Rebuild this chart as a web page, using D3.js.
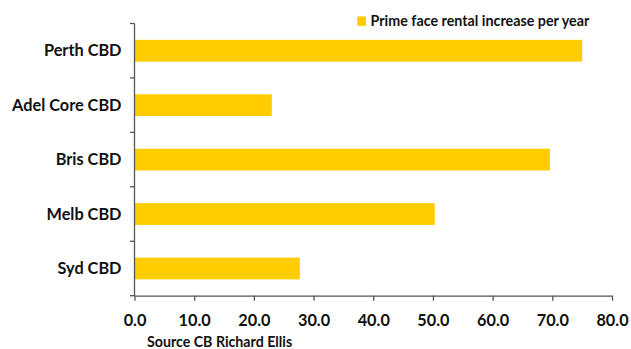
<!DOCTYPE html>
<html><head><meta charset="utf-8">
<script src="https://cdn.jsdelivr.net/npm/d3@7"></script>
<style>body{margin:0;background:#fff}svg{display:block}text{font-family:Lato,"Open Sans",sans-serif;font-weight:bold;fill:#111}</style>
</head><body><svg id="c" width="631" height="349"></svg>
<script>
const categories = ["Perth CBD","Adel Core CBD","Bris CBD","Melb CBD","Syd CBD"];
const values = [75.0, 23.0, 69.6, 50.3, 27.7];
const xTicks = [0,10,20,30,40,50,60,70,80];
const seriesName = "Prime face rental increase per year";
const sourceText = "Source CB Richard Ellis";

const svg = d3.select("#c");
const m = {left:134.5, top:23.5, right:19, bottom:53.3};
const W = 631, H = 349;
const x = d3.scaleLinear().domain([0,80]).range([m.left, W - m.right]);
const y = d3.scaleBand().domain(categories).range([m.top, H - m.bottom]).paddingInner(0.6).paddingOuter(0.3);
const color = "#FFCC00";

svg.selectAll("rect.bar").data(values).join("rect").attr("class","bar")
  .attr("x", x(0)).attr("y",(d,i)=>y(categories[i]))
  .attr("width", d=>x(d)-x(0)).attr("height", y.bandwidth()).attr("fill", color);

// y axis
const yAx = svg.append("g").attr("transform",`translate(${m.left},0)`);
yAx.append("line").attr("x1",0).attr("x2",0).attr("y1",m.top).attr("y2",H-m.bottom).attr("stroke","#555").attr("stroke-width",1.3);
const step = (H-m.bottom-m.top)/categories.length;
d3.range(categories.length+1).forEach(i=>{
  yAx.append("line").attr("x1",-4.5).attr("x2",0).attr("y1",m.top+i*step).attr("y2",m.top+i*step).attr("stroke","#555").attr("stroke-width",1.3);
});
yAx.selectAll("text").data(categories).join("text")
  .attr("x",-13).attr("y",d=>m.top + (categories.indexOf(d)+0.5)*step).attr("dy","0.35em")
  .attr("text-anchor","end").attr("font-size",16.3).text(d=>d);

// x axis
const xAx = svg.append("g").attr("transform",`translate(0,${H-m.bottom})`)
  .call(d3.axisBottom(x).tickValues(xTicks).tickSize(5).tickSizeOuter(0).tickPadding(14).tickFormat(d3.format(".1f")));
xAx.select(".domain").attr("stroke","#555").attr("stroke-width",1.3);
xAx.selectAll(".tick line").attr("stroke","#555").attr("stroke-width",1.3);
xAx.selectAll(".tick text").attr("font-size",16.3).attr("font-family","Lato").attr("font-weight","bold").attr("fill","#111");

// legend
const lg = svg.append("g");
lg.append("rect").attr("x",357.3).attr("y",16.5).attr("width",8.7).attr("height",9.3).attr("fill",color);
lg.append("text").attr("x",370.5).attr("y",26.3).attr("font-size",14.3).text(seriesName);

svg.append("text").attr("x",147).attr("y",347).attr("font-size",14.2).text(sourceText);
</script></body></html>
